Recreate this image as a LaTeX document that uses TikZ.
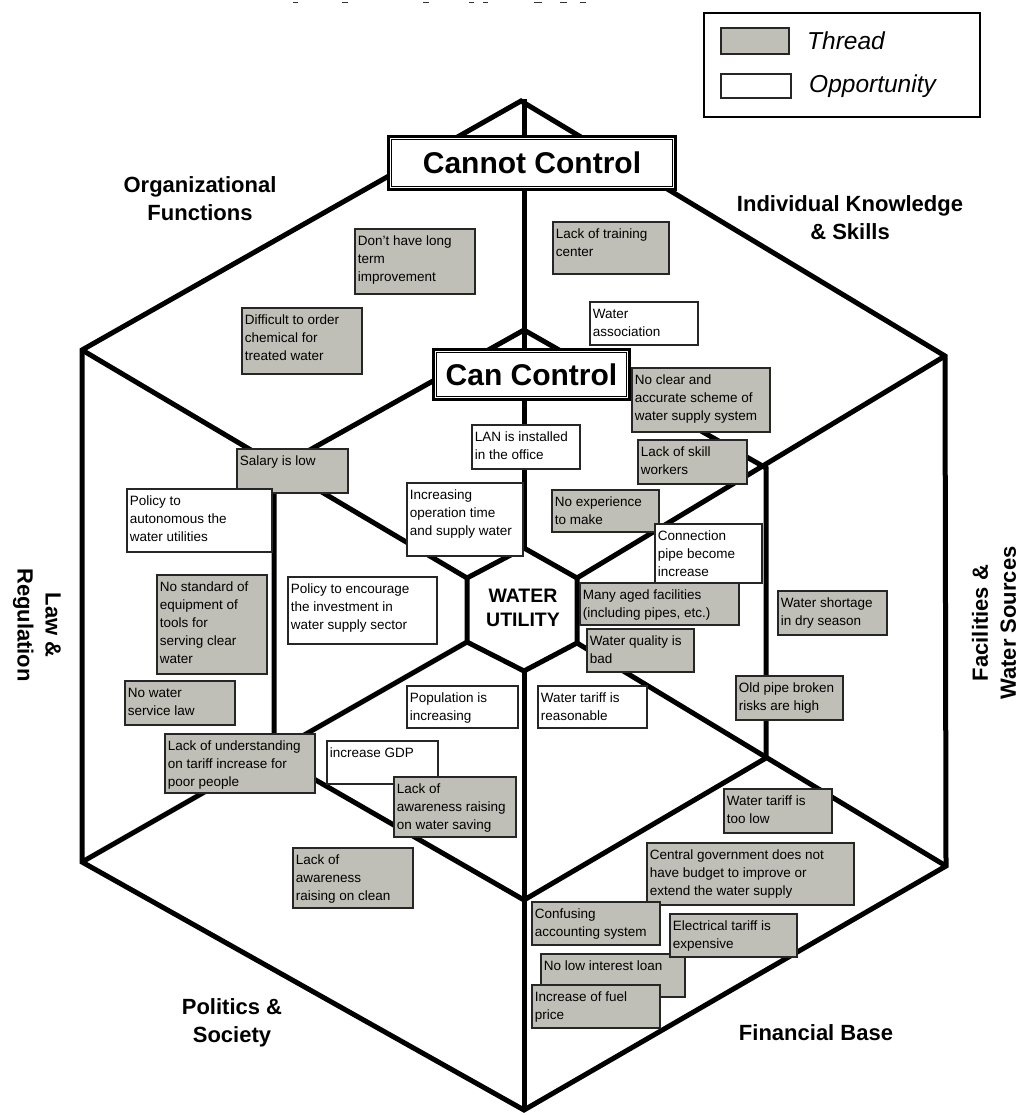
\documentclass[tikz,border=0pt]{standalone}
\usepackage{fontspec}
\setmainfont{Liberation Sans}
\definecolor{thrgray}{RGB}{191,191,183}
\newcommand\bx[3]{\parbox[c][\dimexpr#2pt-8pt\relax][t]{\dimexpr#1pt-6pt\relax}{\raggedright\strut#3}}
\tikzset{
  hexline/.style={line width=5pt, line join=miter, black},
  cellbase/.style={draw=black!85, line width=1.8pt, inner xsep=3pt, inner ysep=4pt, anchor=north west,
     font=\fontsize{13.5}{18}\selectfont, text=black},
  thr/.style={cellbase, fill=thrgray},
  opp/.style={cellbase, fill=white},
  cat/.style={font=\bfseries\fontsize{22}{28}\selectfont, align=center, inner sep=0pt},
  ctrl/.style={draw, line width=3pt, fill=white, font=\bfseries\fontsize{30}{34}\selectfont, inner sep=0pt},
  inframe/.style={line width=1.2pt},
  legtext/.style={font=\itshape\fontsize{24.5}{28}\selectfont, anchor=west, inner sep=0pt},
  crop/.style={line width=1.5pt, black!80}
}
\begin{document}
\begin{tikzpicture}[x=1pt,y=-1pt]
\useasboundingbox (0,0) rectangle (1033,1115);
\fill[white] (0,0) rectangle (1033,1115);
% cut-off marks at the top edge
\foreach \a/\b in {293/298,342/348,423/429,469/474,483/488,534/542,560/567,580/586}
  \draw[crop] (\a,2.5) -- (\b,2.5);
% vertices
\coordinate (O1) at (521,101); \coordinate (O2) at (945,356); \coordinate (O3) at (946,866);
\coordinate (O4) at (524,1110); \coordinate (O5) at (82,862); \coordinate (O6) at (82,350);
\coordinate (M1) at (524,330); \coordinate (M2) at (766,468); \coordinate (M3) at (766,758);
\coordinate (M4) at (524,900); \coordinate (M5) at (274,756); \coordinate (M6) at (274,470);
\coordinate (I1) at (524,548); \coordinate (I2) at (577,578); \coordinate (I3) at (577,643);
\coordinate (I4) at (524,671); \coordinate (I5) at (467,642); \coordinate (I6) at (467,578);
\coordinate (T0) at (524,99);
% hexagons
\draw[hexline] (O1) -- (O2) -- (O3) -- (O4) -- (O5) -- (O6) -- cycle;
\draw[hexline] (M1) -- (M2) -- (M3) -- (M4) -- (M5) -- (M6) -- cycle;
\draw[hexline] (I1) -- (I2) -- (I3) -- (I4) -- (I5) -- (I6) -- cycle;
% spokes
\draw[hexline] (T0) -- (I1);
\draw[hexline] (I4) -- (O4);
\draw[hexline] (O2) -- (I2);
\draw[hexline] (O3) -- (I3);
\draw[hexline] (O5) -- (I5);
\draw[hexline] (O6) -- (I6);
% centre
\node[font=\bfseries\fontsize{19.5}{24}\selectfont, align=center, inner sep=0pt] (wu) at (523,608) {WATER\\UTILITY};
% category labels
\node[cat] (org) at (200,199) {Organizational\\Functions};
\node[cat] (ind) at (850,218) {Individual Knowledge\\\& Skills};
\node[cat, rotate=-90] (law) at (37,625) {Law \&\\Regulation};
\node[cat, rotate=90] (fac) at (994,623) {Facilities \&\\Water Sources};
\node[cat] (pol) at (232,1023) {Politics \&\\Society};
\node[cat] (fin) at (816,1033) {Financial Base};
% legend
\node[draw, line width=1.8pt, minimum width=276pt, minimum height=104pt, anchor=north west, inner sep=0pt] (legend) at (703,12) {};
\node[draw=black!85, line width=1.8pt, fill=thrgray, minimum width=68pt, minimum height=26pt, anchor=north west, inner sep=0pt] (swt) at (720,27) {};
\node[draw=black!85, line width=1.8pt, fill=white, minimum width=70pt, minimum height=24pt, anchor=north west, inner sep=0pt] (swo) at (720,73) {};
\node[legtext] (lt) at (807,41) {Thread};
\node[legtext] (lo) at (809,86) {Opportunity};
% threat and opportunity boxes
\node[thr] (dont) at (354,228) {\bx{120}{65}{Don't have long\\term\\improvement}};
\node[thr] (diff) at (241,307) {\bx{120}{66}{Difficult to order\\chemical for\\treated water}};
\node[thr] (train) at (552,221) {\bx{116}{52}{Lack of training\\center}};
\node[opp] (assoc) at (589,301) {\bx{108}{43}{Water\\association}};
\node[thr] (noclear) at (631,367) {\bx{138}{64}{No clear and\\accurate scheme of\\water supply system}};
\node[thr] (skill) at (637,439) {\bx{109}{44}{Lack of skill\\workers}};
\node[thr] (noexp) at (551,489) {\bx{107}{42}{No experience\\to make}};
\node[opp] (conn) at (654,523) {\bx{107}{59}{Connection\\pipe become\\increase}};
\node[thr] (aged) at (579,582) {\bx{159}{42}{Many aged facilities\\(including pipes, etc.)}};
\node[thr] (quality) at (586,628) {\bx{107}{43}{Water quality is\\bad}};
\node[thr] (shortage) at (777,590) {\bx{109}{44}{Water shortage\\in dry season}};
\node[thr] (oldpipe) at (735,675) {\bx{107}{44}{Old pipe broken\\risks are high}};
\node[opp] (reason) at (537,685) {\bx{109}{42}{Water tariff is\\reasonable}};
\node[opp] (lan) at (471,424) {\bx{108}{44}{LAN is installed\\in the office}};
\node[opp] (incr) at (406,482) {\bx{116}{73}{Increasing\\operation time\\and supply water}};
\node[thr] (salary) at (236,448) {\bx{111}{44}{Salary is low}};
\node[opp] (auto) at (126,488) {\bx{145}{63}{Policy to\\autonomous the\\water utilities}};
\node[thr] (nostd) at (156,574) {\bx{110}{99}{No standard of\\equipment of\\tools for\\serving clear\\water}};
\node[opp] (encour) at (287,576) {\bx{149}{67}{Policy to encourage\\the investment in\\water supply sector}};
\node[thr] (nolaw) at (124,680) {\bx{110}{44}{No water\\service law}};
\node[opp] (popul) at (406,685) {\bx{111}{42}{Population is\\increasing}};
\node[thr] (underst) at (164,733) {\bx{150}{59}{Lack of understanding\\on tariff increase for\\poor people}};
\node[opp] (gdp) at (326,740) {\bx{111}{43}{increase GDP}};
\node[thr] (saving) at (393,776) {\bx{122}{60}{Lack of\\awareness raising\\on water saving}};
\node[thr] (clean) at (292,847) {\bx{120}{60}{Lack of\\awareness\\raising on clean}};
\node[thr] (toolow) at (723,788) {\bx{108}{44}{Water tariff is\\too low}};
\node[thr] (central) at (646,842) {\bx{207}{62}{Central government does not\\have budget to improve or\\extend the water supply}};
\node[thr] (confus) at (531,901) {\bx{128}{43}{Confusing\\accounting system}};
\node[thr] (noloan) at (540,953) {\bx{144}{43}{No low interest loan}};
\node[thr] (elec) at (669,913) {\bx{127}{43}{Electrical tariff is\\expensive}};
\node[thr] (fuel) at (531,984) {\bx{128}{43}{Increase of fuel\\price}};
% control frames
\node[ctrl, minimum width=287pt, minimum height=53pt, anchor=north west] (cannot) at (387,135) {Cannot Control};
\draw[inframe] ([shift={(4.5pt,-4.5pt)}]cannot.north west) rectangle ([shift={(-4.5pt,4.5pt)}]cannot.south east);
\node[ctrl, minimum width=196pt, minimum height=50pt, anchor=north west] (can) at (432,348) {Can Control};
\draw[inframe] ([shift={(4.5pt,-4.5pt)}]can.north west) rectangle ([shift={(-4.5pt,4.5pt)}]can.south east);
\end{tikzpicture}
\end{document}
